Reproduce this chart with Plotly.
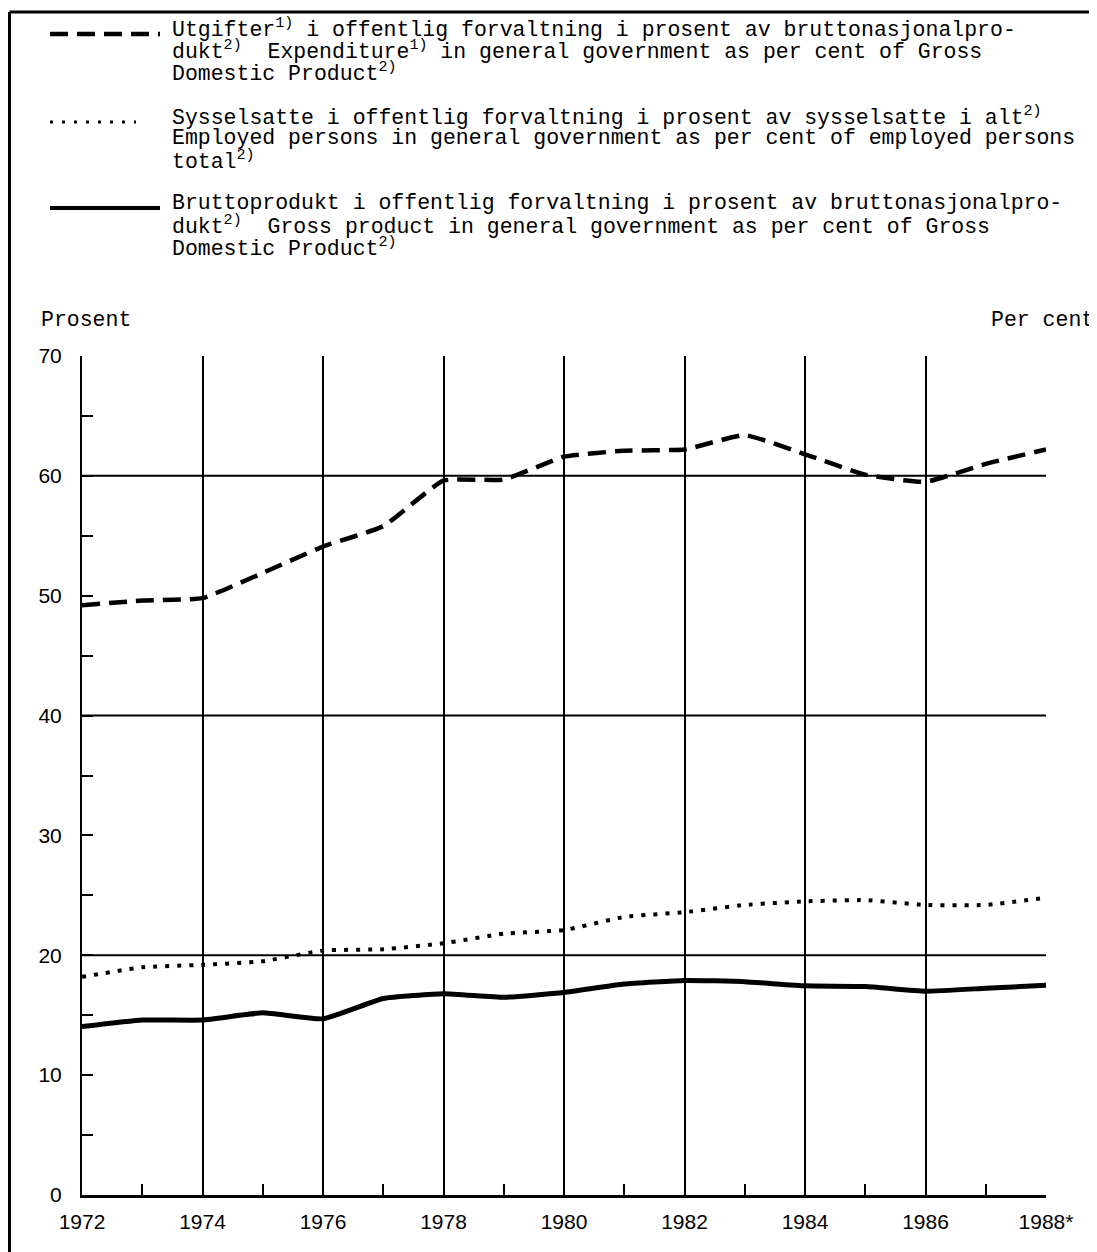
import plotly.graph_objects as go

# ---- data ----
years = list(range(1972, 1989))
expenditure = [49.2, 49.6, 49.8, 51.9, 54.1, 55.8, 59.6, 59.7, 61.6, 62.1, 62.2, 63.4, 61.8, 60.1, 59.5, 61.0, 62.2]
employed = [18.2, 19.0, 19.2, 19.5, 20.4, 20.5, 21.0, 21.8, 22.1, 23.2, 23.6, 24.2, 24.5, 24.6, 24.2, 24.2, 24.8]
gross = [14.05, 14.6, 14.6, 15.2, 14.7, 16.4, 16.8, 16.5, 16.9, 17.6, 17.9, 17.8, 17.45, 17.4, 17.0, 17.25, 17.5]

x_major = [1972, 1974, 1976, 1978, 1980, 1982, 1984, 1986, 1988]
x_labels = ["1972", "1974", "1976", "1978", "1980", "1982", "1984", "1986", "1988*"]
x_minor = [1973, 1975, 1977, 1979, 1981, 1983, 1985, 1987]
y_major = [0, 10, 20, 30, 40, 50, 60, 70]
y_minor = [5, 15, 25, 35, 45, 55, 65]
y_grid = [20, 40, 60]

legend_lines = [
    ["Utgifter<sup>1)</sup> i offentlig forvaltning i prosent av bruttonasjonalpro-",
     "dukt<sup>2)</sup>  Expenditure<sup>1)</sup> in general government as per cent of Gross",
     "Domestic Product<sup>2)</sup>"],
    ["Sysselsatte i offentlig forvaltning i prosent av sysselsatte i alt<sup>2)</sup>",
     "Employed persons in general government as per cent of employed persons",
     "total<sup>2)</sup>"],
    ["Bruttoprodukt i offentlig forvaltning i prosent av bruttonasjonalpro-",
     "dukt<sup>2)</sup>  Gross product in general government as per cent of Gross",
     "Domestic Product<sup>2)</sup>"],
]

# ---- geometry helpers (reference pixel -> paper); page body has an 8px margin ----
OFF = 8
W, H = 1097 - OFF, 1252 - OFF
L, R, T, B = 82 - OFF, 1046 - OFF, 356 - OFF, 1195 - OFF
def px(x):
    return (x - OFF - L) / (R - L)
def py(y):
    return (B - (y - OFF)) / (B - T)

fig = go.Figure()

fig.add_trace(go.Scatter(x=years, y=expenditure, mode="lines",
                         line=dict(color="black", width=4.5, dash="18px,9px", shape="spline", smoothing=0.4),
                         showlegend=False))
fig.add_trace(go.Scatter(x=years, y=employed, mode="lines",
                         line=dict(color="black", width=4, dash="4px,8px", shape="spline", smoothing=0.4),
                         showlegend=False))
fig.add_trace(go.Scatter(x=years, y=gross, mode="lines",
                         line=dict(color="black", width=5, shape="spline", smoothing=0.4),
                         showlegend=False))

shapes = []
for g in y_grid:
    shapes.append(dict(type="line", xref="x", yref="y", x0=years[0], x1=years[-1], y0=g, y1=g,
                       line=dict(color="black", width=2), layer="below"))
# frame
shapes.append(dict(type="line", xref="paper", yref="paper", x0=px(9.5), x1=px(1100), y0=py(12), y1=py(12),
                   line=dict(color="black", width=3)))
shapes.append(dict(type="line", xref="paper", yref="paper", x0=px(9.5), x1=px(9.5), y0=py(12), y1=py(1260),
                   line=dict(color="black", width=3)))
# legend symbols
shapes.append(dict(type="line", xref="paper", yref="paper", x0=px(50), x1=px(160), y0=py(34), y1=py(34),
                   line=dict(color="black", width=4.5, dash="18px,9px")))
shapes.append(dict(type="line", xref="paper", yref="paper", x0=px(50), x1=px(136), y0=py(122), y1=py(122),
                   line=dict(color="black", width=3, dash="3px,9px")))
shapes.append(dict(type="line", xref="paper", yref="paper", x0=px(50), x1=px(160), y0=py(208), y1=py(208),
                   line=dict(color="black", width=4)))

annotations = []
group_tops = [28, 116, 203]
for gi, lines in enumerate(legend_lines):
    for li, txt in enumerate(lines):
        annotations.append(dict(xref="paper", yref="paper", x=px(170), y=py(group_tops[gi] + 22 * li),
                                xanchor="left", yanchor="middle", showarrow=False, text=txt,
                                font=dict(family="Liberation Mono", size=21.5, color="black")))
annotations.append(dict(xref="paper", yref="paper", x=px(39), y=py(320), xanchor="left", yanchor="middle",
                        showarrow=False, text="Prosent",
                        font=dict(family="Liberation Mono", size=21.5, color="black")))
annotations.append(dict(xref="paper", yref="paper", x=px(1096), y=py(320), xanchor="right", yanchor="middle",
                        showarrow=False, text="Per cent",
                        font=dict(family="Liberation Mono", size=21.5, color="black")))

fig.update_layout(
    width=W, height=H,
    margin=dict(l=L, r=W - R, t=T, b=H - B),
    paper_bgcolor="white", plot_bgcolor="white",
    shapes=shapes, annotations=annotations,
    font=dict(family="Liberation Sans", size=21, color="black"),
    xaxis=dict(range=[1972, 1988], tickmode="array", tickvals=x_major, ticktext=x_labels,
               showgrid=True, gridcolor="black", gridwidth=2, zeroline=False,
               showline=True, linecolor="black", linewidth=3, ticks="", ticklabelstandoff=6,
               minor=dict(tickmode="array", tickvals=x_minor, ticks="inside", ticklen=11,
                          tickwidth=2, tickcolor="black", showgrid=False),
               fixedrange=True),
    yaxis=dict(range=[0, 70], tickmode="array", tickvals=y_major, ticktext=[str(v) for v in y_major],
               showgrid=False, zeroline=False, showline=True, linecolor="black", linewidth=2,
               ticks="inside", ticklen=11, tickwidth=2, tickcolor="black", ticklabelstandoff=14,
               minor=dict(tickmode="array", tickvals=y_minor, ticks="inside", ticklen=11,
                          tickwidth=2, tickcolor="black", showgrid=False),
               fixedrange=True),
)

fig.write_html("out.html")
